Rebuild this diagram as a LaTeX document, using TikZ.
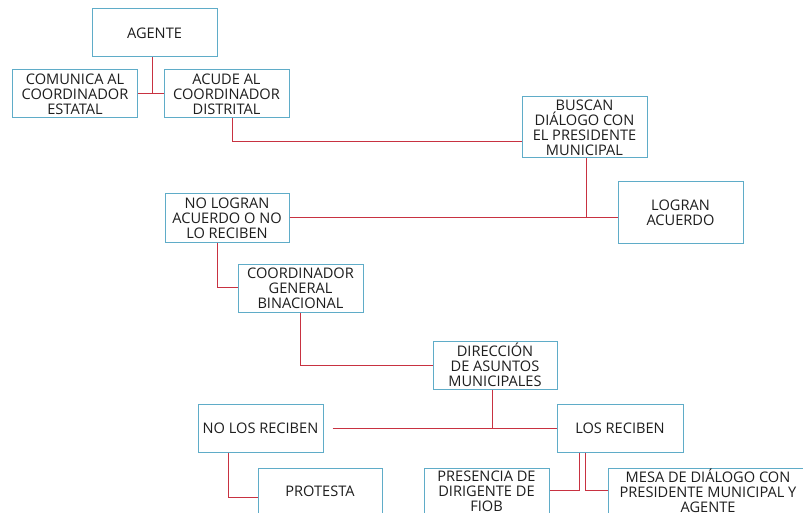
\documentclass[tikz,border=0pt]{standalone}
\usepackage{fontspec}
\setmainfont{Open Sans}
\definecolor{boxblue}{RGB}{95,172,200}
\definecolor{linered}{RGB}{200,50,65}
\definecolor{txt}{RGB}{30,30,30}
\begin{document}
\begin{tikzpicture}[x=1pt,y=-1pt,
  box/.style={draw=boxblue, line width=1pt, fill=white, align=center, inner sep=0pt,
    font=\fontsize{14.6}{15}\selectfont, text=txt, minimum width=125pt, minimum height=48pt},
  link/.style={draw=linered, line width=1pt}]
\useasboundingbox (0,0) rectangle (803,513);
\clip (0,0) rectangle (803,513);
\node[box] (agente) at (154.5,33) {AGENTE};
\node[box] (comunica) at (75,94) {COMUNICA AL\\COORDINADOR\\ESTATAL};
\node[box] (acude) at (226.5,94) {ACUDE AL\\COORDINADOR\\DISTRITAL};
\node[box, minimum height=61pt] (buscan) at (584.5,127.5) {BUSCAN\\DIÁLOGO CON\\EL PRESIDENTE\\MUNICIPAL};
\node[box, minimum width=124pt] (nolog) at (227,218) {NO LOGRAN\\ACUERDO O NO\\LO RECIBEN};
\node[box, minimum height=61pt] (logran) at (680.5,212.5) {LOGRAN\\ACUERDO};
\node[box] (coord) at (300.5,288) {COORDINADOR\\GENERAL\\BINACIONAL};
\node[box, minimum width=124pt] (dir) at (495,365) {DIRECCIÓN\\DE ASUNTOS\\MUNICIPALES};
\node[box] (nolos) at (260.5,428) {NO LOS RECIBEN};
\node[box, minimum width=126pt] (losrec) at (620,428) {LOS RECIBEN};
\node[box, minimum width=124pt, minimum height=46pt] (protesta) at (320,491) {PROTESTA};
\node[box, minimum height=46pt] (presencia) at (486.5,491) {PRESENCIA DE\\DIRIGENTE DE\\FIOB};
\node[box, minimum width=200pt, minimum height=46pt] (mesa) at (708,491) {MESA DE DIÁLOGO CON\\PRESIDENTE MUNICIPAL Y\\AGENTE};
% connectors
\draw[link] ([xshift=-2.5pt]agente.south) -- ([xshift=-2.5pt]agente.south |- comunica.east);
\draw[link] (comunica.east) -- (acude.west);
\draw[link] ([xshift=5.5pt]acude.south) |- ([yshift=-14.5pt]buscan.west);
\draw[link] ([xshift=1.5pt]buscan.south) -- ([xshift=1.5pt]buscan.south |- nolog.east);
\draw[link] (nolog.east) -- (nolog.east -| logran.west);
\draw[link] ([xshift=-10pt]nolog.south) |- ([yshift=1pt]coord.west);
\draw[link] ([xshift=-0.5pt]coord.south) |- (dir.west);
\coordinate (gap) at ([xshift=9pt]nolos.east);
\draw[link] (gap) -- (losrec.west);
\draw[link] ([xshift=-3pt]dir.south) -- ([xshift=-3pt]dir.south |- losrec.west);
\draw[link] ([xshift=-32.5pt]nolos.south) |- ([yshift=-6pt]protesta.west);
\draw[link] ([xshift=-41pt]losrec.south) |- ([yshift=1pt]presencia.east);
\draw[link] ([xshift=-35pt]losrec.south) |- ([yshift=1pt]mesa.west);
\end{tikzpicture}
\end{document}
